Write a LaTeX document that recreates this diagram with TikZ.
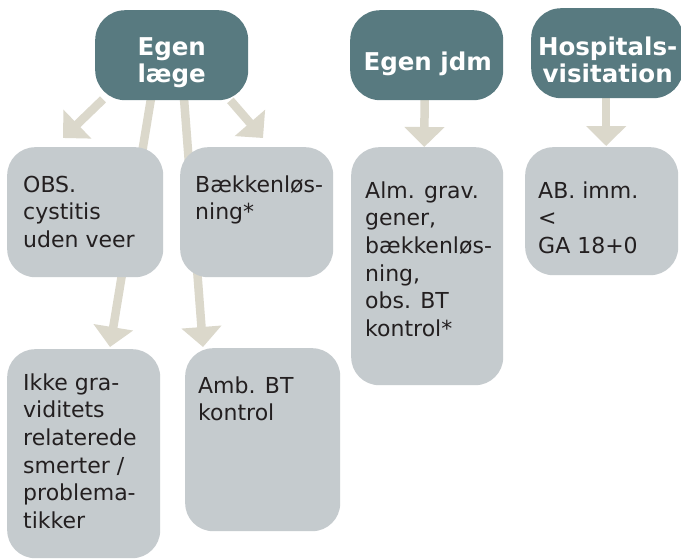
\documentclass[tikz,border=0pt]{standalone}
\usepackage{fontspec}
\setmainfont{DejaVu Sans}
\usetikzlibrary{arrows.meta,calc}
\definecolor{tealbox}{HTML}{587A80}
\definecolor{graybox}{HTML}{C5CBCE}
\definecolor{arrowc}{HTML}{DBD8CB}
\definecolor{txt}{HTML}{231F20}
\pgfdeclarelayer{back}
\pgfdeclarelayer{arrowlayer}
\pgfsetlayers{back,arrowlayer,main}
\begin{document}
\begin{tikzpicture}[x=1pt,y=-1pt,
  tbox/.style={fill=tealbox, rounded corners=30pt, draw=none, inner sep=0pt, anchor=north west},
  gbox/.style={fill=graybox, rounded corners=28pt, draw=none, inner sep=0pt, anchor=north west},
  ttext/.style={text=white, font=\bfseries\fontsize{24.5}{27}\selectfont, align=center, inner sep=0pt, anchor=north},
  btext/.style={text=txt, font=\fontsize{22}{27.6}\selectfont, align=left, inner sep=0pt, anchor=north west},
  conn/.style={draw=arrowc, line width=8.5pt, -{Triangle[width=39pt,length=20pt]}},
]
\begin{pgfonlayer}{back}
\fill[white] (0,0) rectangle (681,560);
\end{pgfonlayer}
\useasboundingbox (0,0) rectangle (681,560);

% title boxes
\node[tbox, minimum width=153pt, minimum height=90pt] (egen) at (95,10) {};
\node[tbox, minimum width=153pt, minimum height=90pt] (jdm) at (350,10) {};
\node[tbox, minimum width=152pt, minimum height=90pt] (hosp) at (531,8) {};

% gray boxes
\node[gbox, minimum width=156pt, minimum height=130pt] (obs) at (7,147) {};
\node[gbox, minimum width=153pt, minimum height=130pt] (baek) at (180,147) {};
\node[gbox, minimum width=152pt, minimum height=238pt] (alm) at (351,147) {};
\node[gbox, minimum width=153pt, minimum height=128pt] (ab) at (525,147) {};
\node[gbox, minimum width=153pt, minimum height=209pt] (ikke) at (7,349) {};
\node[gbox, minimum width=155pt, minimum height=183pt] (amb) at (185,348) {};

% title texts
\node[ttext] (egent) at ($(egen.north)+(0,26)$) {\rule{0pt}{19pt}Egen\\læge};
\node[ttext] (jdmt) at ($(jdm.north)+(1,41)$) {\rule{0pt}{19pt}Egen jdm};
\node[ttext] (hospt) at ($(hosp.north)+(0.5,28)$) {\rule{0pt}{19pt}Hospitals-\\visitation};

% body texts
\node[btext] (obst) at ($(obs.north west)+(16,28)$) {\rule{0pt}{17pt}OBS.\\cystitis\\uden veer};
\node[btext] (baekt) at ($(baek.north west)+(15,28)$) {\rule{0pt}{17pt}Bækkenløs-\\ning*};
\node[btext] (almt) at ($(alm.north west)+(14,34)$) {\rule{0pt}{17pt}Alm. grav.\\gener,\\bækkenløs-\\ning,\\obs. BT\\kontrol*};
\node[btext] (abt) at ($(ab.north west)+(13,34)$) {\rule{0pt}{17pt}AB. imm.\\<\\GA 18+0};
\node[btext] (ikket) at ($(ikke.north west)+(16,24)$) {\rule{0pt}{17pt}Ikke gra-\\viditets\\relaterede\\smerter /\\problema-\\tikker};
\node[btext] (ambt) at ($(amb.north west)+(13,28)$) {\rule{0pt}{17pt}Amb. BT\\kontrol};

% connectors
\begin{pgfonlayer}{arrowlayer}
\draw[conn] ($(egen.south west)+(8,-1)$) -- ($(obs.north west)+(56,-9)$);
\draw[conn] ($(egen.south east)+(-18,0)$) -- ($(baek.north west)+(83,-9)$);
\draw[conn] ($(egen.south west)+(56,-2)$) -- ($(ikke.north west)+(103,-2)$);
\draw[conn] ($(egen.south west)+(89,-2)$) -- ($(amb.north west)+(18,-1)$);
\draw[conn] ($(jdm.south)+(-2,-2)$) -- ($(alm.north)+(-3,0)$);
\draw[conn] ($(hosp.south)+(-1,-2)$) -- ($(ab.north)+(4.5,-1)$);
\end{pgfonlayer}
\end{tikzpicture}
\end{document}
